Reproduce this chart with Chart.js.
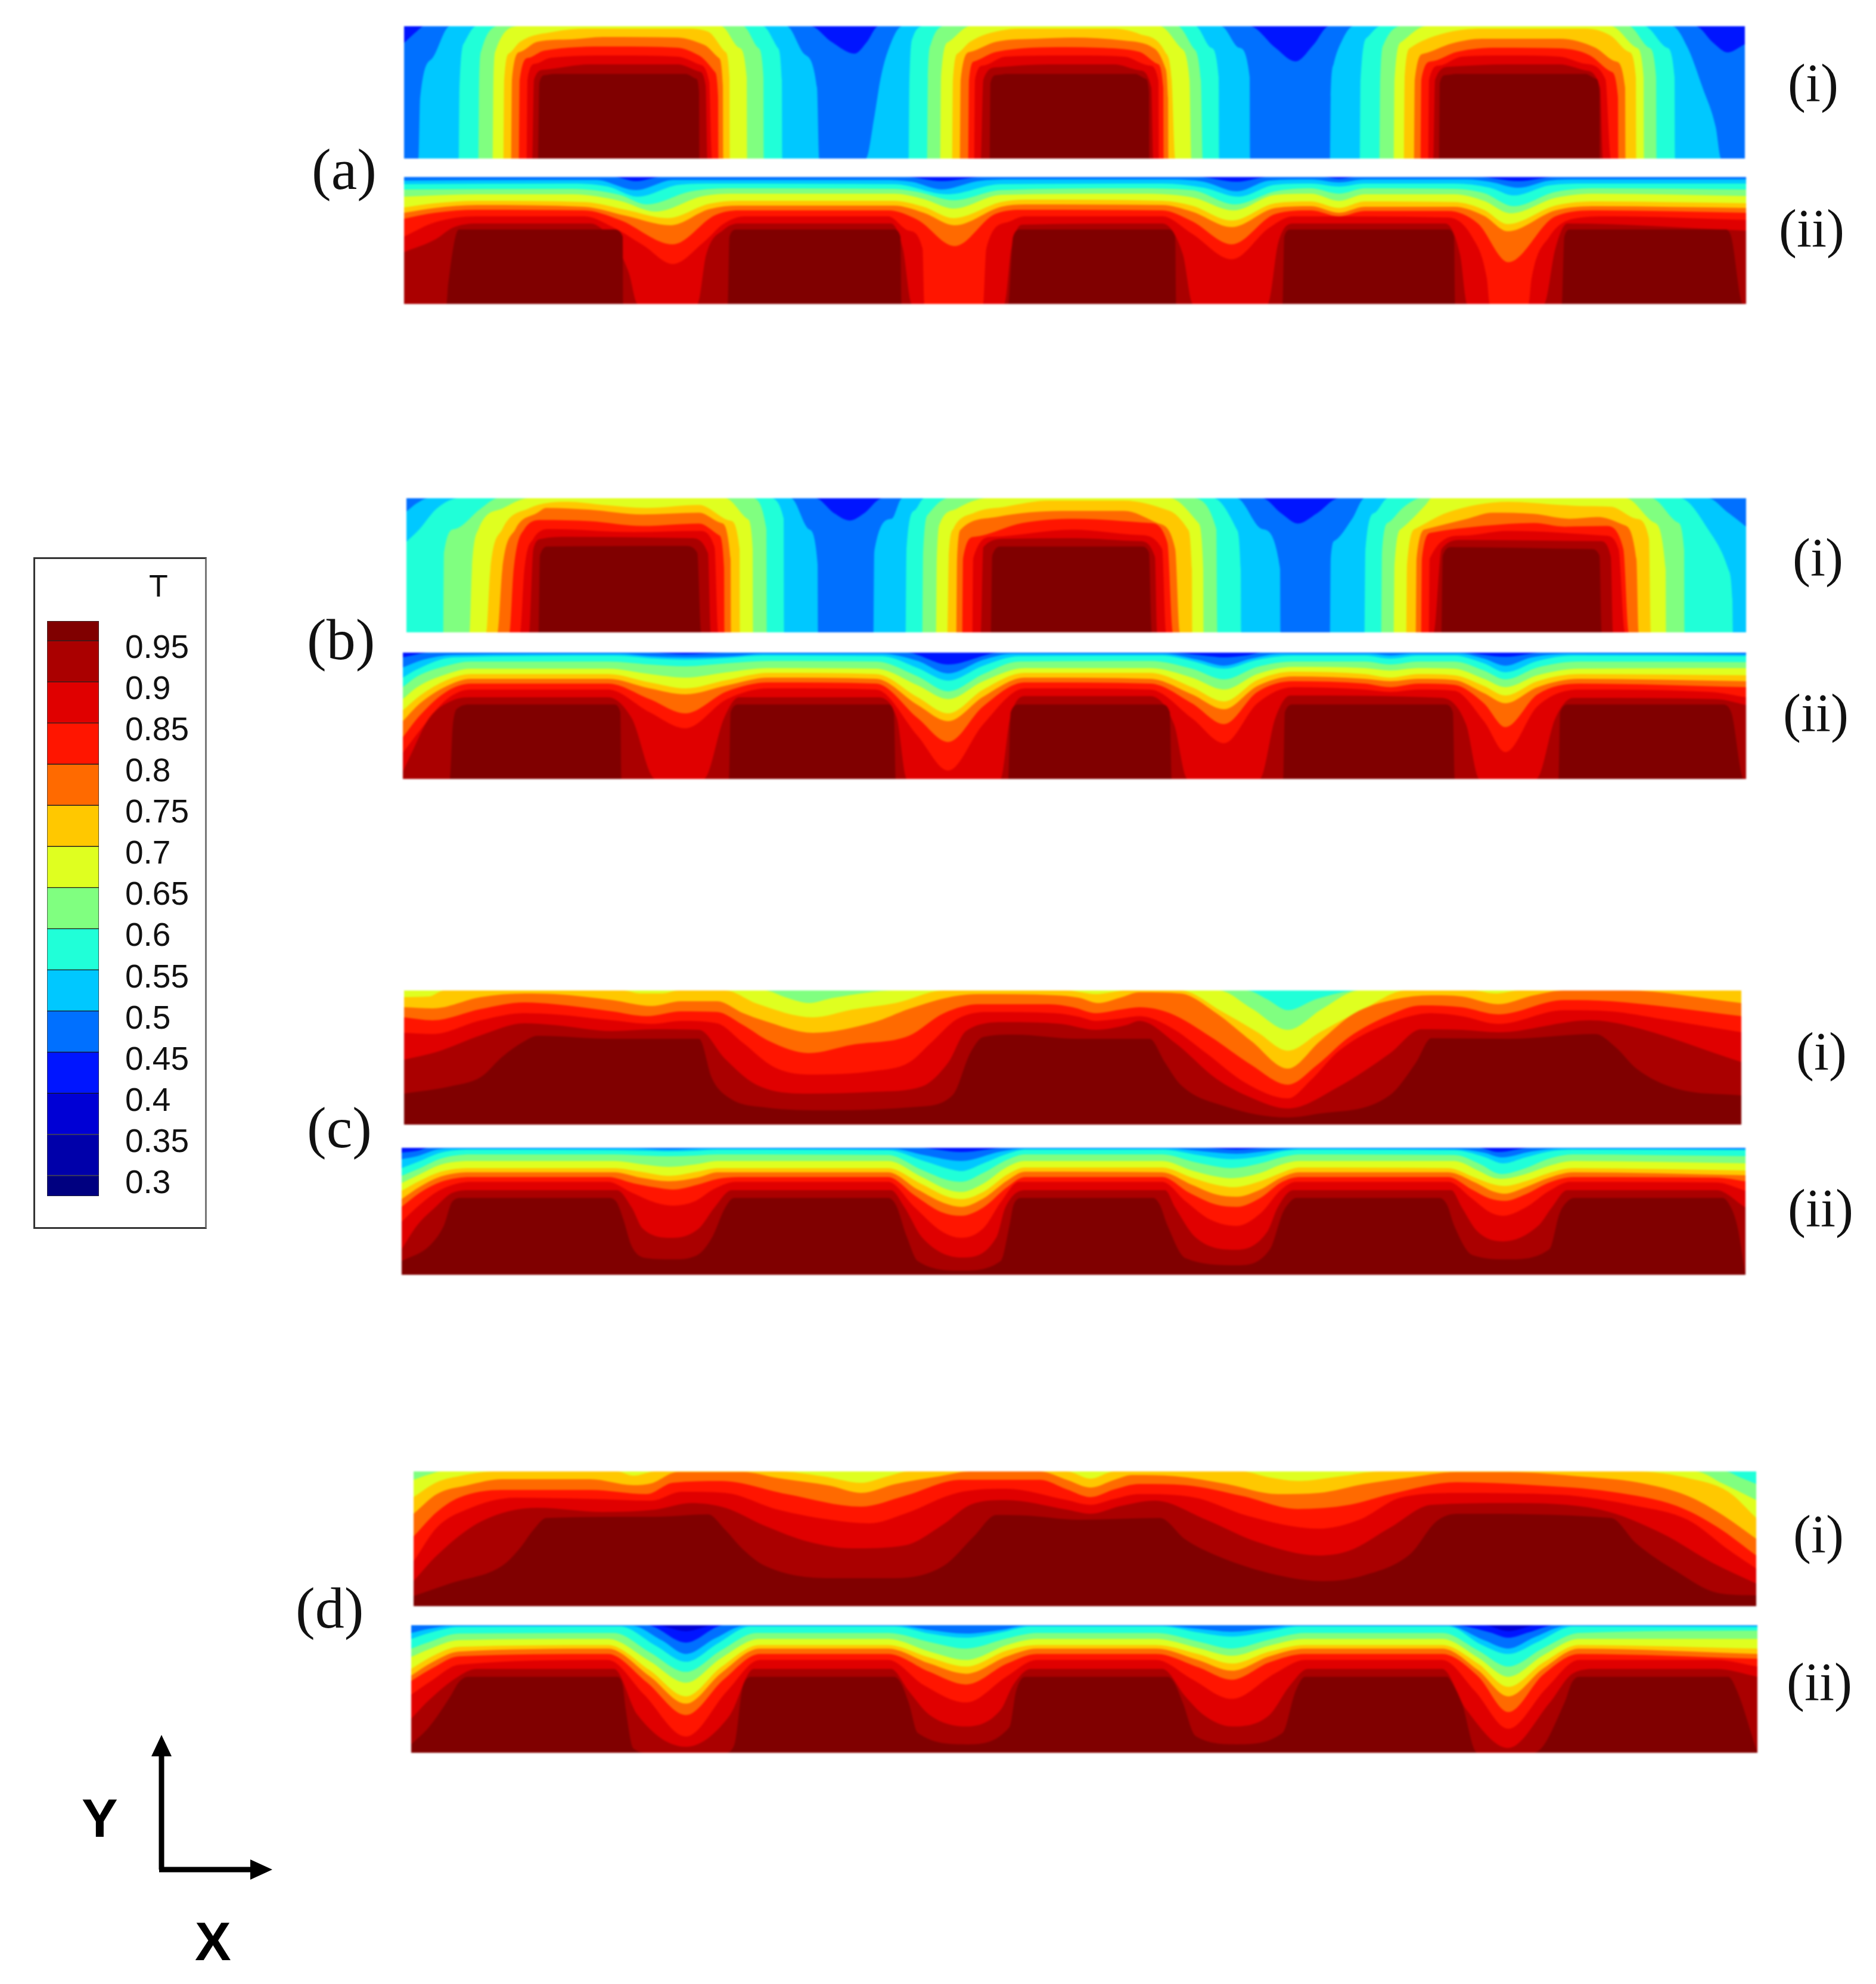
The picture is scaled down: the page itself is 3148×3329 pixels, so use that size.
<!DOCTYPE html>
<html>
<head>
<meta charset="utf-8">
<script src="https://cdn.jsdelivr.net/npm/chart.js@4/dist/chart.umd.min.js"></script>
<style>
  html, body { margin: 0; background: #fff; }
  #page { position: relative; width: 3148px; height: 3329px; overflow: hidden; }
  canvas.panel { position: absolute; filter: blur(1.5px); }
  .serif { position: absolute; font-family: "Liberation Serif", serif; color: #111; line-height: 1; transform: translateY(-50%); white-space: nowrap; }
  #frame { position: absolute; left: 56px; top: 935px; width: 285px; height: 1121px; border: 3px solid #333; border-right-color: #777; }
  #legendTitle { position: absolute; left: 236px; top: 955px; width: 60px; text-align: center; font: 52px/56px "Liberation Sans", sans-serif; color: #111; }
  .axisName { position: absolute; font: bold 91px/91px "Liberation Sans", sans-serif; color: #000; }
</style>
</head>
<body>
<div id="page">
  <div id="frame"></div>
  <div id="legendTitle">T</div>
  <canvas id="legendBar" width="270" height="975" style="position:absolute;left:79px;top:1042px"></canvas>
  <svg style="position:absolute;left:240px;top:2900px" width="240" height="260">
    <path d="M31 237V40M27 237H185" stroke="#000" stroke-width="9" fill="none"/>
    <path d="M31 11L48 47H14Z M217 237L180 220V254Z" fill="#000"/>
  </svg>
  <div class="axisName" style="left:137px;top:3005px">Y</div>
  <div class="axisName" style="left:327px;top:3212px">X</div>
</div>
<script>
// Contour bands: each level fills everything below its curve
const bandLevels = [0.35, 0.4, 0.45, 0.5, 0.55, 0.6, 0.65, 0.7, 0.75, 0.8, 0.85, 0.9, 0.95];
const bandColors = ["#0000D5", "#0015FF", "#0070FF", "#00C8FF", "#20FFD8", "#80FF80", "#DFFF20", "#FFC800", "#FF6A00", "#FF1500", "#E00000", "#AA0000", "#800000"];

// Colour bar
const legendTicks = [0.3, 0.35, 0.4, 0.45, 0.5, 0.55, 0.6, 0.65, 0.7, 0.75, 0.8, 0.85, 0.9, 0.95];
const legendBreaks = [0.275, 0.3, 0.35, 0.4, 0.45, 0.5, 0.55, 0.6, 0.65, 0.7, 0.75, 0.8, 0.85, 0.9, 0.95, 0.974];
const legendColors = ["#000080", "#0000AA", "#0000D5", "#0015FF", "#0070FF", "#00C8FF", "#20FFD8", "#80FF80", "#DFFF20", "#FFC800", "#FF6A00", "#FF1500", "#E00000", "#AA0000", "#800000"];

const contoursA1 = [
  [678,0,2928,0],
  [678,28,700,8,711,0,1360,0,1395,26,1434,46,1455,26,1474,0,2097,0,2140,36,2174,59,2205,30,2230,0,2845,0,2875,28,2899,44,2928,30],
  [678,222,702,222,705,120,726,53,755,0,1320,0,1349,46,1371,103,1375,222,1453,222,1467,153,1478,86,1492,36,1514,0,2049,0,2079,36,2097,86,2098,222,2232,222,2233,120,2238,63,2251,26,2271,0,2806,0,2832,36,2857,103,2879,169,2888,222,2928,222],
  [678,222,770,222,771,100,780,26,799,0,1280,0,1305,36,1312,90,1313,222,1525,222,1526,90,1532,18,1551,0,2006,0,2032,36,2045,86,2046,222,2282,222,2283,90,2295,18,2316,0,2759,0,2797,36,2810,86,2811,222,2928,222],
  [678,222,803,222,804,90,808,40,836,0,1247,0,1272,36,1281,86,1282,222,1556,222,1557,90,1562,30,1584,0,1976,0,2002,36,2015,90,2018,222,2315,222,2316,90,2322,30,2350,0,2733,0,2767,36,2779,86,2780,222,2928,222],
  [678,222,827,222,828,90,832,40,873,0,1210,0,1240,36,1253,86,1254,222,1578,222,1579,90,1592,26,1628,0,1946,0,1981,36,1996,90,1999,222,2339,222,2340,90,2352,26,2393,0,2703,0,2746,36,2758,86,2759,222,2928,222],
  [678,222,845,222,846,90,855,45,873,26,931,9,985,4,1150,4,1188,9,1217,43,1224,86,1225,222,1598,222,1599,90,1608,45,1628,26,1687,6,1720,4,1869,4,1912,13,1955,43,1966,90,1972,222,2356,222,2357,90,2367,36,2419,13,2488,4,2660,4,2703,16,2733,43,2745,86,2746,222,2928,222],
  [678,222,858,222,859,90,873,43,902,26,960,22,1012,18,1137,19,1181,31,1206,53,1213,100,1214,222,1611,222,1612,90,1628,43,1672,26,1740,21,1800,19,1886,24,1938,38,1955,69,1960,120,1961,222,2373,222,2374,90,2389,46,2436,29,2488,21,2617,21,2677,36,2711,59,2727,103,2728,222,2928,222],
  [678,222,871,222,872,90,887,53,913,41,1027,34,1137,36,1173,49,1199,76,1205,119,1206,222,1625,222,1626,90,1635,59,1672,43,1789,35,1843,36,1912,43,1942,63,1952,103,1953,222,2384,222,2385,90,2402,59,2445,43,2514,36,2617,37,2668,49,2703,76,2715,119,2716,222,2928,222],
  [678,222,884,222,885,90,898,63,924,53,1027,49,1137,51,1173,64,1190,93,1195,222,1635,222,1636,90,1650,66,1687,51,1800,49,1886,51,1929,66,1944,93,1945,222,2397,222,2398,90,2415,66,2453,51,2531,49,2617,51,2660,63,2694,89,2703,222,2928,222],
  [678,222,893,222,896,90,913,73,990,64,1137,64,1173,76,1184,99,1187,222,1646,222,1650,90,1672,69,1760,64,1869,64,1912,74,1932,103,1935,222,2405,222,2408,90,2432,68,2531,64,2617,64,2660,74,2685,103,2690,222,2928,222],
  [678,222,903,222,905,95,915,82,930,80,1150,80,1168,88,1173,110,1174,222,1661,222,1662,95,1672,82,1690,80,1905,80,1922,88,1928,110,1929,222,2415,222,2416,95,2426,82,2444,80,2660,80,2678,88,2684,110,2685,222,2928,222]
];

const contoursA2 = [
  [678,0,2930,0],
  [678,0,1030,0,1067,7,1110,0,1520,0,1580,7,1650,0,2010,0,2075,8,2130,0,2220,0,2247,3,2275,0,2480,0,2548,7,2610,0,2930,0],
  [678,6,900,5,1000,5,1067,22,1130,5,1480,5,1530,8,1580,21,1640,7,1700,4,1960,4,2020,8,2075,24,2130,6,2200,4,2247,9,2290,4,2460,4,2500,8,2548,18,2600,6,2650,4,2930,4],
  [678,12,950,11,1020,16,1070,33,1140,13,1200,11,1500,12,1590,29,1680,12,1950,11,2020,18,2078,33,2140,13,2200,11,2247,16,2290,11,2440,11,2500,18,2540,31,2600,14,2660,11,2930,11],
  [678,21,960,20,1040,30,1085,46,1160,24,1230,19,1500,20,1540,25,1600,39,1680,22,1900,19,2000,22,2072,46,2140,24,2200,19,2247,28,2290,19,2440,20,2490,27,2540,49,2610,25,2680,19,2930,21],
  [678,33,800,29,960,29,1040,40,1100,58,1180,32,1240,28,1500,28,1550,37,1600,53,1680,30,1900,28,2000,34,2070,56,2140,30,2200,28,2247,40,2290,29,2440,29,2490,40,2535,61,2610,35,2680,28,2930,32],
  [678,51,730,44,800,40,980,42,1050,55,1120,69,1190,45,1240,40,1500,40,1550,50,1600,69,1680,42,1720,38,1950,40,2000,48,2067,73,2140,44,2200,41,2247,52,2290,41,2440,42,2490,55,2530,79,2610,48,2680,41,2930,44],
  [678,60,730,52,800,47,980,50,1050,65,1125,81,1190,54,1240,48,1500,48,1550,60,1602,81,1680,50,1720,46,1950,47,2000,58,2067,84,2140,52,2200,49,2247,60,2290,50,2440,50,2490,65,2530,91,2610,56,2680,49,2930,52],
  [678,70,730,60,800,55,980,56,1040,72,1129,113,1200,64,1240,56,1490,56,1540,72,1602,116,1670,62,1720,55,1950,56,2000,74,2067,113,2140,62,2200,56,2247,66,2290,57,2430,57,2480,78,2531,143,2610,66,2680,56,2930,60],
  [678,100,730,76,800,66,980,66,1030,85,1080,115,1129,146,1180,110,1215,78,1250,66,1490,66,1525,90,1548,120,1551,213,1650,213,1655,120,1690,76,1720,66,1950,66,2000,95,2067,138,2130,85,2170,66,2430,68,2470,100,2495,170,2500,213,2565,213,2570,170,2600,100,2640,70,2700,66,2930,72],
  [678,126,730,105,760,85,800,78,990,78,1030,110,1055,160,1070,213,1170,213,1185,130,1215,88,1240,78,1495,78,1515,120,1530,213,1685,213,1697,120,1715,80,1950,78,1985,130,2002,213,2127,213,2145,110,2170,78,2425,78,2450,130,2462,213,2591,213,2610,120,2630,78,2930,90],
  [678,213,749,213,752,180,770,88,790,88,1030,88,1045,100,1046,213,1221,213,1224,100,1236,88,1500,88,1511,100,1513,213,1692,213,1700,100,1712,88,1960,88,1972,100,1974,213,2152,213,2155,100,2166,88,2430,88,2440,100,2442,213,2621,213,2625,100,2635,88,2895,88,2905,100,2925,213,2930,213]
];

const contoursB1 = [
  [682,0,2930,0],
  [682,0,1368,0,1400,25,1426,37,1450,25,1481,0,2118,0,2150,25,2178,42,2210,25,2247,0,2930,0],
  [682,22,700,8,719,0,1327,0,1357,51,1372,110,1373,222,1466,222,1467,90,1496,34,1514,0,2075,0,2118,51,2148,117,2149,222,2232,222,2233,100,2240,70,2269,34,2290,0,2866,0,2900,24,2930,47],
  [682,72,704,51,733,17,770,0,1291,0,1315,34,1316,222,1520,222,1521,90,1535,20,1551,0,2036,0,2075,51,2082,117,2083,222,2290,222,2291,90,2307,24,2329,0,2819,0,2866,51,2900,117,2907,167,2908,222,2930,222],
  [682,222,744,222,745,90,763,51,807,17,836,0,1261,0,1286,51,1287,222,1548,222,1549,90,1558,26,1591,0,1998,0,2041,51,2043,222,2318,222,2319,90,2330,40,2355,15,2385,0,2771,0,2815,40,2826,86,2827,222,2930,222],
  [682,222,788,222,792,117,803,51,843,17,887,0,1217,0,1254,34,1263,84,1264,222,1571,222,1572,100,1578,40,1606,17,1657,0,1963,0,2010,40,2019,117,2020,222,2339,222,2340,110,2352,50,2393,10,2402,0,2728,0,2775,40,2795,117,2796,222,2930,222],
  [682,222,816,222,823,117,843,51,887,17,953,6,1012,11,1085,16,1173,11,1225,37,1241,84,1242,222,1590,222,1592,100,1600,50,1635,24,1687,14,1760,4,1886,4,1963,21,1993,51,2000,117,2001,222,2360,222,2361,110,2376,50,2428,24,2531,6,2617,11,2660,13,2703,14,2746,34,2767,67,2770,222,2930,222],
  [682,222,835,222,843,117,865,51,902,24,917,16,990,19,1078,27,1173,24,1210,41,1226,101,1227,222,1605,222,1606,100,1613,51,1672,31,1782,21,1886,21,1942,41,1972,84,1980,222,2376,222,2377,100,2393,51,2462,34,2505,24,2574,26,2634,34,2681,31,2724,44,2746,101,2750,222,2930,222],
  [682,222,855,222,862,117,880,51,909,36,990,38,1078,46,1173,42,1206,61,1215,117,1216,222,1615,222,1616,100,1635,64,1716,41,1804,34,1929,41,1959,74,1968,222,2385,222,2386,100,2402,57,2488,46,2574,41,2625,47,2694,46,2724,84,2733,222,2930,222],
  [682,222,873,222,880,117,895,67,924,51,1063,56,1173,54,1199,81,1205,222,1632,222,1633,100,1665,64,1800,52,1912,61,1950,84,1957,222,2398,222,2399,100,2453,62,2531,54,2694,62,2716,84,2727,222,2930,222],
  [682,222,888,222,895,84,909,67,953,64,1159,66,1188,91,1193,222,1646,222,1650,81,1687,67,1804,66,1912,71,1938,97,1942,222,2406,222,2419,84,2453,69,2685,71,2703,97,2707,222,2930,222],
  [682,222,904,222,906,95,920,80,1150,79,1170,90,1177,222,1663,222,1665,95,1680,80,1915,80,1928,90,1933,222,2419,222,2421,95,2436,81,2670,84,2684,95,2688,222,2930,222]
];

const contoursB2 = [
  [676,0,2930,0],
  [676,8,690,5,720,0,1090,0,1150,3,1220,0,1520,0,1591,20,1680,0,1960,0,2020,5,2054,8,2090,5,2120,0,2450,0,2526,7,2590,0,2930,0],
  [676,25,710,12,760,4,1040,2,1090,6,1150,8,1230,6,1280,2,1480,2,1540,14,1591,35,1650,12,1700,2,1950,2,2010,12,2054,22,2100,10,2150,2,2300,2,2333,5,2370,2,2450,2,2490,10,2526,22,2570,8,2640,2,2930,3],
  [676,42,700,28,760,8,1030,5,1100,10,1150,12,1220,9,1280,5,1480,6,1540,26,1591,47,1650,22,1710,6,1950,5,2000,14,2054,27,2110,12,2170,5,2290,5,2333,10,2380,5,2440,5,2490,18,2526,33,2580,14,2640,5,2930,6],
  [676,58,700,40,750,22,790,15,1020,15,1090,20,1150,23,1220,18,1290,14,1470,15,1540,40,1591,65,1650,36,1710,15,1930,14,2000,27,2054,45,2110,24,2170,15,2290,15,2333,20,2380,15,2440,15,2490,30,2526,45,2580,25,2650,15,2930,16],
  [676,78,700,58,750,36,790,27,1020,27,1090,36,1150,42,1220,33,1290,26,1470,27,1540,55,1591,78,1650,48,1720,26,1930,26,2000,42,2054,62,2110,36,2170,24,2290,26,2333,30,2380,26,2440,27,2490,44,2526,58,2580,38,2650,27,2930,26],
  [676,97,705,72,750,46,790,36,1020,36,1090,50,1150,60,1220,46,1290,34,1470,36,1540,75,1591,102,1650,62,1720,34,1930,34,2000,58,2054,82,2110,46,2170,32,2290,36,2333,42,2380,36,2440,38,2490,56,2526,72,2580,48,2650,36,2930,38],
  [676,115,705,85,750,56,790,44,1020,44,1090,60,1150,70,1220,55,1290,42,1470,44,1540,88,1591,115,1650,74,1720,42,1930,44,2000,70,2054,95,2110,56,2170,40,2290,44,2333,48,2380,44,2440,46,2490,68,2526,85,2580,58,2650,44,2930,48],
  [676,142,705,105,750,65,790,52,1020,52,1090,78,1150,102,1220,65,1290,50,1470,52,1540,110,1591,150,1650,90,1720,50,1930,52,2000,85,2054,120,2110,66,2170,48,2290,52,2333,58,2380,52,2440,54,2490,85,2526,125,2580,70,2650,52,2930,58],
  [676,168,705,130,750,78,790,62,1020,62,1090,100,1150,127,1220,78,1290,60,1470,62,1540,140,1591,198,1650,120,1720,60,1930,62,2000,110,2054,152,2110,85,2170,58,2290,62,2333,66,2380,62,2440,64,2490,115,2526,167,2580,90,2650,62,2870,66,2930,75],
  [676,200,690,170,720,110,760,80,790,75,1020,75,1060,110,1100,212,1181,212,1215,110,1240,75,1470,75,1505,110,1522,212,1679,212,1695,110,1720,73,1930,73,1970,120,1993,212,2114,212,2140,110,2165,72,2420,76,2460,120,2483,212,2578,212,2610,110,2640,76,2880,78,2930,88],
  [676,212,755,212,760,120,770,92,790,87,1030,87,1041,100,1043,212,1223,212,1226,100,1240,87,1490,87,1500,100,1503,212,1692,212,1696,100,1710,87,1950,87,1963,100,1966,212,2153,212,2156,100,2170,87,2425,87,2438,100,2441,212,2615,212,2618,100,2632,87,2890,87,2905,100,2926,212,2930,212]
];

const contoursC1 = [
  [678,0,2922,0],
  [678,0,2092,0,2125,14,2161,33,2210,14,2281,0,2922,0],
  [678,0,1283,0,1320,12,1357,21,1400,12,1503,0,2045,0,2100,30,2161,66,2220,30,2281,0,2922,0],
  [678,11,720,10,745,0,1045,0,1075,5,1110,5,1140,0,1217,0,1270,22,1364,45,1430,32,1503,21,1584,0,1790,0,1839,6,1890,0,1981,0,2050,35,2110,70,2161,101,2215,70,2290,30,2359,0,2470,0,2510,5,2550,0,2922,0],
  [678,28,726,30,807,11,880,5,931,6,1027,16,1093,26,1144,18,1203,18,1247,38,1283,51,1364,71,1467,53,1525,31,1599,10,1643,6,1770,8,1810,12,1843,21,1880,12,1912,3,1981,5,2041,38,2100,85,2161,131,2215,85,2273,38,2340,15,2402,8,2453,10,2514,23,2574,8,2625,0,2728,0,2922,21],
  [678,45,726,50,807,31,880,20,931,23,1027,35,1085,43,1144,35,1203,36,1247,58,1291,85,1357,105,1430,91,1525,76,1584,38,1643,23,1760,23,1800,28,1839,38,1880,32,1912,28,1963,38,2032,78,2100,125,2161,158,2210,125,2264,78,2330,42,2385,25,2453,28,2514,40,2625,16,2703,18,2922,43],
  [678,71,726,73,807,50,880,38,931,40,1027,50,1093,56,1144,51,1203,55,1247,88,1298,128,1357,141,1467,135,1525,121,1562,88,1606,48,1657,36,1770,38,1810,44,1839,51,1880,47,1912,43,1963,61,2024,105,2090,155,2161,181,2200,150,2247,101,2330,55,2402,38,2453,43,2514,56,2625,33,2703,35,2789,48,2922,70],
  [678,116,733,103,807,75,880,55,931,58,1027,68,1100,65,1173,66,1217,115,1269,158,1357,173,1467,170,1547,161,1591,121,1621,68,1687,53,1780,56,1839,66,1890,58,1912,51,1972,88,2041,148,2100,180,2161,198,2247,161,2333,105,2385,65,2453,66,2514,70,2668,50,2728,58,2922,120],
  [678,173,755,161,807,145,843,111,880,85,902,76,1027,81,1173,81,1195,148,1225,181,1283,196,1393,201,1540,195,1599,175,1628,105,1650,78,1701,74,1810,81,1929,81,1955,121,1981,158,2058,195,2161,213,2204,208,2333,175,2376,121,2402,80,2531,81,2677,73,2711,95,2746,131,2814,165,2922,176]
];

const contoursC2 = [
  [674,0,2929,0],
  [674,8,700,5,720,0,1540,0,1613,7,1690,0,2020,0,2075,3,2130,0,2480,0,2514,7,2570,0,2929,0],
  [674,19,700,14,733,3,760,1,1060,1,1122,3,1190,1,1500,2,1550,12,1613,22,1680,6,1720,1,1960,1,2020,6,2075,10,2130,5,2180,1,2440,2,2490,8,2520,16,2570,6,2620,1,2929,2],
  [674,34,705,22,740,8,790,3,1030,4,1085,5,1122,6,1165,5,1205,3,1490,4,1550,22,1595,36,1613,39,1650,26,1690,10,1720,3,1950,3,2010,12,2050,18,2068,19,2115,14,2150,6,2180,3,2440,4,2490,15,2515,25,2522,26,2560,16,2600,6,2640,3,2929,4],
  [674,47,705,34,740,18,790,11,1030,11,1085,13,1122,14,1165,13,1205,11,1490,12,1545,36,1590,54,1613,57,1650,42,1690,20,1720,11,1950,11,2005,24,2045,32,2065,34,2115,26,2150,16,2180,11,2440,12,2485,28,2510,42,2520,44,2560,34,2600,18,2640,11,2929,14],
  [674,59,705,44,740,28,790,22,1030,22,1080,28,1122,32,1165,28,1205,22,1490,22,1545,48,1590,70,1613,74,1650,60,1690,32,1720,22,1950,22,2000,38,2040,48,2065,51,2115,42,2150,28,2180,22,2440,22,2480,38,2505,50,2520,52,2560,44,2600,30,2640,22,2929,26],
  [674,72,705,55,740,40,790,34,1030,34,1075,40,1122,47,1170,40,1205,34,1490,34,1545,60,1590,82,1613,86,1650,74,1690,45,1720,33,1950,33,2000,50,2040,62,2070,66,2115,56,2150,42,2180,33,2430,34,2475,50,2505,61,2525,64,2560,56,2600,42,2640,34,2929,38],
  [674,86,705,65,740,48,790,41,1030,41,1075,50,1122,56,1170,50,1205,41,1490,41,1540,70,1585,93,1613,99,1650,85,1690,55,1720,40,1950,41,2000,62,2040,78,2075,82,2115,70,2150,50,2180,41,2430,41,2475,58,2505,73,2525,77,2560,66,2600,50,2640,41,2929,46],
  [674,99,705,75,740,57,790,49,1020,49,1065,60,1110,68,1129,70,1170,62,1205,52,1240,49,1490,49,1535,80,1580,108,1613,114,1650,100,1690,66,1720,49,1950,49,1995,75,2040,95,2075,99,2115,84,2150,58,2180,49,2430,49,2470,70,2500,85,2525,89,2560,78,2600,58,2640,49,2880,50,2929,56],
  [674,124,705,95,740,70,790,57,1020,57,1060,75,1100,92,1129,97,1165,90,1200,68,1235,57,1490,57,1535,100,1580,140,1613,151,1650,135,1680,90,1710,57,1950,57,1990,90,2030,120,2075,131,2115,110,2150,70,2175,57,2430,57,2470,85,2500,108,2522,114,2560,100,2600,72,2635,57,2880,58,2929,72],
  [674,170,700,130,730,100,760,75,790,71,1035,71,1060,100,1078,135,1129,151,1173,135,1199,100,1228,71,1495,71,1518,100,1547,150,1613,184,1672,150,1687,100,1720,71,1955,71,1972,100,2006,150,2075,171,2127,140,2144,100,2170,71,2435,71,2453,100,2479,140,2522,157,2582,130,2604,100,2630,71,2880,71,2929,100],
  [674,190,720,165,745,130,759,90,775,84,1020,84,1034,90,1046,120,1060,165,1085,185,1129,187,1170,180,1195,150,1217,100,1232,84,1490,84,1503,95,1522,150,1540,190,1613,206,1679,190,1694,130,1701,95,1715,84,1935,84,1946,95,1959,130,1989,185,2075,197,2131,170,2152,110,2161,95,2175,84,2415,84,2428,95,2440,130,2471,180,2531,187,2600,170,2617,110,2630,90,2642,84,2890,84,2900,92,2915,130,2929,213]
];

const contoursD1 = [
  [694,0,2947,0],
  [694,0,2895,0,2920,10,2947,21],
  [694,14,720,5,740,0,2845,0,2890,20,2947,48],
  [694,43,733,18,770,8,829,0,1035,0,1063,7,1100,0,1305,0,1380,8,1445,19,1490,8,1525,0,1790,0,1830,12,1870,0,2084,0,2130,10,2178,16,2250,8,2316,0,2746,0,2832,11,2900,34,2947,78],
  [694,71,733,38,785,23,843,13,990,13,1063,23,1093,20,1137,1,1247,1,1305,11,1393,24,1445,36,1503,21,1577,8,1628,0,1745,0,1790,14,1830,27,1870,14,1900,6,1972,8,2058,21,2144,38,2213,36,2290,21,2359,11,2445,1,2531,1,2660,9,2746,18,2832,41,2892,74,2947,113],
  [694,109,733,68,770,44,843,31,990,31,1085,38,1129,19,1210,16,1320,38,1445,59,1518,41,1613,14,1745,14,1790,30,1830,43,1870,30,1912,21,1989,23,2084,41,2178,63,2264,56,2333,38,2445,18,2574,23,2703,34,2814,58,2883,94,2947,141],
  [694,151,733,94,785,63,865,44,990,46,1093,49,1144,34,1217,36,1305,64,1393,81,1459,87,1518,71,1606,36,1687,29,1790,48,1830,56,1870,46,1912,38,2006,44,2092,74,2213,96,2281,81,2350,44,2445,36,2617,39,2746,58,2832,81,2900,131,2947,163],
  [694,184,733,141,807,84,902,61,1012,68,1100,64,1159,53,1217,61,1283,91,1357,118,1430,129,1518,124,1584,88,1628,56,1687,48,1790,64,1830,71,1880,58,1938,49,2024,81,2109,118,2213,141,2264,133,2333,94,2402,56,2531,53,2685,64,2789,104,2875,154,2947,188],
  [694,209,755,188,843,158,873,128,895,98,917,78,1100,76,1188,72,1217,98,1247,131,1283,158,1393,179,1503,179,1584,158,1635,108,1672,73,1723,74,1810,81,1946,78,1989,114,2041,141,2144,174,2221,184,2290,174,2367,138,2410,84,2445,71,2703,78,2746,121,2814,168,2883,204,2947,208]
];

const contoursD2 = [
  [690,0,2949,0],
  [690,0,1100,0,1151,10,1200,0,2490,0,2531,10,2580,0,2949,0],
  [690,0,1085,0,1151,29,1215,0,2440,0,2500,12,2531,21,2565,12,2610,0,2949,0],
  [690,13,720,6,760,1,1060,1,1110,25,1151,48,1200,22,1250,1,1510,1,1560,8,1621,14,1680,8,1720,1,1950,1,2010,6,2067,11,2120,6,2170,1,2430,1,2490,25,2531,39,2575,20,2630,1,2949,1],
  [690,23,720,13,770,3,1040,2,1100,34,1151,61,1205,30,1260,2,1500,2,1560,14,1621,21,1680,12,1730,2,1950,2,2010,12,2067,19,2130,10,2180,2,2430,2,2485,32,2531,48,2580,28,2640,2,2949,3],
  [690,39,720,28,770,14,1030,13,1090,45,1151,78,1210,42,1270,13,1490,13,1560,28,1621,39,1690,22,1740,13,1940,13,2010,27,2067,39,2130,24,2190,13,2420,13,2480,42,2531,69,2590,38,2650,13,2949,9],
  [690,53,720,40,770,25,1020,23,1090,60,1151,96,1210,55,1275,23,1490,23,1560,44,1621,58,1690,33,1740,23,1940,23,2010,38,2067,51,2130,34,2190,23,2420,23,2480,54,2531,86,2590,50,2650,23,2949,23],
  [690,73,725,52,770,36,1020,33,1090,75,1151,119,1210,70,1275,33,1490,33,1560,54,1621,69,1690,42,1740,33,1940,33,2010,48,2067,64,2130,44,2190,33,2420,33,2480,64,2531,103,2590,62,2650,33,2949,39],
  [690,84,725,62,770,44,1020,39,1090,85,1151,131,1210,80,1275,39,1490,39,1560,64,1621,81,1690,52,1740,39,1940,39,2010,58,2067,76,2130,52,2190,39,2420,39,2480,75,2531,119,2590,72,2650,39,2949,48],
  [690,93,725,72,770,52,1020,48,1085,95,1151,150,1215,90,1275,48,1490,48,1560,78,1621,99,1690,64,1740,48,1940,48,2010,70,2067,91,2130,62,2190,48,2420,48,2480,85,2531,145,2590,82,2650,48,2949,56],
  [690,116,725,92,770,66,1020,58,1080,115,1151,186,1220,110,1275,58,1490,58,1550,100,1621,129,1690,85,1740,58,1940,58,2000,90,2067,123,2140,80,2190,58,2420,58,2475,110,2531,173,2595,105,2650,58,2880,58,2949,69],
  [690,156,720,125,770,85,800,73,1030,73,1070,150,1151,203,1225,150,1265,73,1495,73,1525,110,1560,150,1621,169,1680,140,1700,100,1730,73,1950,73,1990,120,2020,150,2067,169,2130,150,2165,100,2195,73,2420,73,2460,140,2531,205,2600,130,2640,80,2680,73,2880,73,2949,86],
  [690,199,720,170,755,120,770,95,785,86,1035,86,1045,100,1050,140,1063,206,1089,213,1217,213,1232,200,1247,100,1262,86,1500,86,1511,95,1525,130,1540,180,1621,199,1694,170,1705,110,1720,86,1960,86,1970,95,1985,130,2006,185,2075,199,2152,180,2174,110,2190,86,2428,86,2436,95,2453,130,2479,213,2574,213,2625,130,2638,95,2650,86,2900,86,2915,110,2949,213]
];

// Page boxes of the eight panels, lowest band shown, and depth range in picture units
const panels = [
  { contours: contoursA1, base: 0.4,  left: 678, top: 44,   right: 2928, bottom: 266,  depth: 222 },
  { contours: contoursA2, base: 0.4,  left: 678, top: 297,  right: 2930, bottom: 510,  depth: 213 },
  { contours: contoursB1, base: 0.4,  left: 682, top: 836,  right: 2930, bottom: 1061, depth: 222 },
  { contours: contoursB2, base: 0.4,  left: 676, top: 1095, right: 2930, bottom: 1307, depth: 212 },
  { contours: contoursC1, base: 0.55, left: 678, top: 1662, right: 2922, bottom: 1887, depth: 225 },
  { contours: contoursC2, base: 0.4,  left: 674, top: 1926, right: 2929, bottom: 2139, depth: 213 },
  { contours: contoursD1, base: 0.55, left: 694, top: 2469, right: 2947, bottom: 2695, depth: 226 },
  { contours: contoursD2, base: 0.35, left: 690, top: 2727, right: 2949, bottom: 2941, depth: 213 },
];

const letterLabels = [["(a)", 523, 284], ["(b)", 515, 1073], ["(c)", 515, 1892], ["(d)", 496, 2698]];
const romanLabels = [
  ["(i)", 3000, 140], ["(ii)", 2985, 384], ["(i)", 3008, 936], ["(ii)", 2992, 1197],
  ["(i)", 3014, 1765], ["(ii)", 3000, 2028], ["(i)", 3009, 2575], ["(ii)", 2998, 2823],
];

const page = document.getElementById("page");

function toPoints(flat) {
  const points = [];
  for (let i = 0; i < flat.length; i += 2) points.push({ x: flat[i], y: flat[i + 1] });
  return points;
}

function drawPanel(panel) {
  const canvas = document.createElement("canvas");
  canvas.className = "panel";
  canvas.width = panel.right - panel.left;
  canvas.height = panel.bottom - panel.top;
  canvas.style.left = panel.left + "px";
  canvas.style.top = panel.top + "px";
  page.appendChild(canvas);

  const first = bandLevels.indexOf(panel.base);
  new Chart(canvas, {
    type: "line",
    data: {
      datasets: panel.contours.map((row, i) => ({
        data: toPoints(row),
        fill: { value: panel.depth },
        backgroundColor: bandColors[first + i],
        borderWidth: 0,
        pointRadius: 0,
        cubicInterpolationMode: "monotone",
        order: panel.contours.length - i,
      })),
    },
    options: {
      responsive: false,
      animation: false,
      events: [],
      plugins: { legend: { display: false }, tooltip: { enabled: false } },
      scales: {
        x: { type: "linear", display: false, min: panel.left, max: panel.right },
        y: { type: "linear", display: false, min: 0, max: panel.depth, reverse: true },
      },
    },
  });
}

function drawLegendBar() {
  new Chart(document.getElementById("legendBar"), {
    type: "bar",
    data: {
      labels: ["T"],
      datasets: legendColors.map((color, i) => ({
        data: [[legendBreaks[i], legendBreaks[i + 1]]],
        backgroundColor: color,
        borderColor: "rgba(0,0,0,0.85)",
        borderWidth: 1,
        borderSkipped: false,
        barPercentage: 1,
        categoryPercentage: 1,
      })),
    },
    options: {
      responsive: false,
      animation: false,
      events: [],
      layout: { autoPadding: false, padding: { bottom: 10 } },
      plugins: { legend: { display: false }, tooltip: { enabled: false } },
      scales: {
        x: { display: false, stacked: true },
        y: {
          position: "right",
          min: 0.275,
          max: 0.974,
          border: { display: false },
          grid: { display: false, drawTicks: false },
          afterFit: (scale) => {
            scale.width = 183;
            scale.paddingTop = 0;
            scale.paddingBottom = 0;
          },
          afterBuildTicks: (scale) => { scale.ticks = legendTicks.map((value) => ({ value })); },
          ticks: {
            autoSkip: false,
            padding: 44,
            labelOffset: 14,
            color: "#111",
            font: { family: "Liberation Sans", size: 55 },
            callback: (value) => String(value),
          },
        },
      },
    },
  });
}

function addLabels(labels, size) {
  labels.forEach(([text, x, y]) => {
    const el = document.createElement("div");
    el.className = "serif";
    el.textContent = text;
    el.style.left = x + "px";
    el.style.top = y + "px";
    el.style.fontSize = size + "px";
    page.appendChild(el);
  });
}

panels.forEach(drawPanel);
drawLegendBar();
addLabels(letterLabels, 98);
addLabels(romanLabels, 90);
</script>
</body>
</html>
